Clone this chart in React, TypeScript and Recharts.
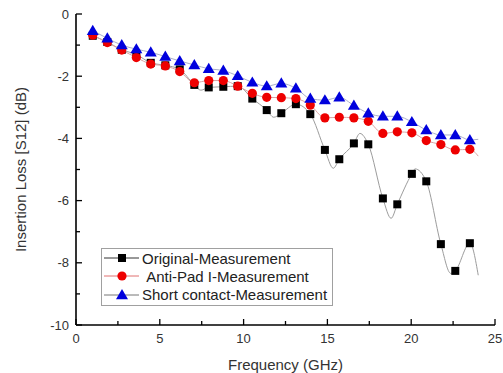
import { ComposedChart, Line, XAxis, YAxis, Label } from "recharts";

// frequency of each measured point (GHz)
const freq = [
  1.0, 1.87, 2.73, 3.6, 4.46, 5.33, 6.19, 7.06, 7.92, 8.79, 9.65, 10.52, 11.38, 12.25,
  13.12, 13.98, 14.85, 15.71, 16.58, 17.44, 18.31, 19.17, 20.04, 20.9, 21.77, 22.63, 23.5,
];

const original = [
  -0.7, -0.9, -1.15, -1.3, -1.57, -1.65, -1.78, -2.28, -2.36, -2.34, -2.32, -2.72, -3.09, -3.19,
  -2.9, -3.22, -4.37, -4.67, -4.16, -4.19, -5.93, -6.12, -5.14, -5.38, -7.4, -8.26, -7.37,
];
const antiPad = [
  -0.68, -0.92, -1.16, -1.4, -1.61, -1.67, -1.85, -2.21, -2.14, -2.14, -2.32, -2.55, -2.68, -2.69,
  -2.72, -2.93, -3.34, -3.32, -3.34, -3.45, -3.84, -3.79, -3.82, -4.07, -4.2, -4.37, -4.35,
];
const shortContact = [
  -0.54, -0.78, -1.0, -1.13, -1.23, -1.37, -1.51, -1.64, -1.76, -1.82, -1.99, -2.2, -2.32, -2.23,
  -2.39, -2.72, -2.77, -2.68, -2.94, -3.19, -3.29, -3.29, -3.47, -3.73, -3.89, -3.89, -4.05,
];

// extra points of the thin measured curves (between / after the markers)
const originalCurveExtra: [number, number][] = [
  [7.45, -2.45], [11.8, -3.32], [15.35, -4.96], [16.94, -3.84], [18.8, -6.57],
  [20.23, -4.98], [22.36, -8.34], [24.0, -8.4],
];
const antiPadCurveExtra: [number, number][] = [[24.0, -4.57]];
const shortCurveExtra: [number, number][] = [[24.0, -4.03]];

const xTicks = [0, 2.5, 5, 7.5, 10, 12.5, 15, 17.5, 20, 22.5, 25];
const yTicks = [-10, -9, -8, -7, -6, -5, -4, -3, -2, -1, 0];

const FONT = "Arial, 'Liberation Sans', sans-serif";

const marks = (vals: number[]) => freq.map((f, i) => ({ f, v: vals[i] }));
const curve = (vals: number[], extra: [number, number][]) =>
  [...marks(vals), ...extra.map(([f, v]) => ({ f, v }))].sort((a, b) => a.f - b.f);

function XTick({ x, y, payload }: any) {
  const major = payload.value % 5 === 0;
  return (
    <g>
      <line x1={x} x2={x} y1={y} y2={y - (major ? 6 : 4)} stroke="#000" strokeWidth={1.3} />
      {major && (
        <text x={x} y={y + 18} textAnchor="middle" fontSize={13} fontFamily={FONT} fill="#333">
          {payload.value}
        </text>
      )}
    </g>
  );
}

function YTick({ x, y, payload }: any) {
  const major = payload.value % 2 === 0;
  return (
    <g>
      <line x1={x} x2={x + (major ? 6 : 4)} y1={y} y2={y} stroke="#000" strokeWidth={1.3} />
      {major && (
        <text x={x - 7} y={y + 4.5} textAnchor="end" fontSize={13} fontFamily={FONT} fill="#333">
          {payload.value}
        </text>
      )}
    </g>
  );
}

const Square = ({ cx, cy, fill }: any) =>
  cx == null ? null : <rect x={cx - 4} y={cy - 4} width={8} height={8} fill={fill} />;
const Circle = ({ cx, cy, fill }: any) =>
  cx == null ? null : <circle cx={cx} cy={cy} r={4.6} fill={fill} />;
const Triangle = ({ cx, cy, fill }: any) =>
  cx == null ? null : (
    <polygon points={`${cx},${cy - 6} ${cx + 6},${cy + 4.2} ${cx - 6},${cy + 4.2}`} fill={fill} />
  );

const series = [
  { name: "Original-Measurement", vals: original, extra: originalCurveExtra, color: "#000", curve: "#9c9c9c", legendLine: "#333", Dot: Square },
  { name: "\u00a0Anti-Pad I-Measurement", vals: antiPad, extra: antiPadCurveExtra, color: "#ee0000", curve: "#d9a3a3", legendLine: "#e07070", Dot: Circle },
  { name: "Short contact-Measurement", vals: shortContact, extra: shortCurveExtra, color: "#0000dd", curve: "#a9aecb", legendLine: "#777", Dot: Triangle },
];

function LegendBox() {
  return (
    <div
      style={{
        position: "absolute",
        left: 101,
        top: 248,
        width: 230,
        border: "1px solid #a0a0a0",
        background: "#fff",
        fontFamily: FONT,
        fontSize: 15,
        color: "#222",
        padding: "0 0 1px 0",
      }}
    >
      {series.map((s) => (
        <div key={s.name} style={{ display: "flex", alignItems: "center", height: 18.3, whiteSpace: "pre" }}>
          <svg width={40} height={12} style={{ flex: "none" }}>
            <line x1={2} x2={37} y1={6} y2={6} stroke={s.legendLine} strokeWidth={1} />
            <s.Dot cx={20} cy={6} fill={s.color} />
          </svg>
          <span>{s.name}</span>
        </div>
      ))}
    </div>
  );
}

// the chart spans the whole window (body margin removed) so the "25" label has room
export default function App() {
  return (
    <div style={{ position: "relative", width: 503, height: 373 }}>
      <style>{"html,body{margin:0;overflow:hidden} .recharts-surface{overflow:visible !important}"}</style>
      <ComposedChart width={503} height={373} margin={{ top: 14, right: 8, bottom: 3, left: 8 }}>
        <XAxis
          type="number"
          dataKey="f"
          domain={[0, 25]}
          ticks={xTicks}
          interval={0}
          height={45}
          tickSize={0}
          tickMargin={0}
          tickLine={false}
          axisLine={{ stroke: "#000", strokeWidth: 1.6 }}
          tick={<XTick />}
          allowDuplicatedCategory={false}
        >
          <Label value="Frequency (GHz)" position="insideBottom" offset={0} fontSize={15} fontFamily={FONT} fill="#333" />
        </XAxis>
        <XAxis xAxisId="top" type="number" orientation="top" domain={[0, 25]} height={0} tick={false} tickLine={false} axisLine={{ stroke: "#000", strokeWidth: 1.6 }} />
        <YAxis
          type="number"
          domain={[-10, 0]}
          ticks={yTicks}
          interval={0}
          width={68}
          tickSize={0}
          tickMargin={0}
          tickLine={false}
          axisLine={{ stroke: "#000", strokeWidth: 1.6 }}
          tick={<YTick />}
        >
          <Label
            content={({ viewBox }: any) => {
              const cy = viewBox.y + viewBox.height / 2;
              return (
                <text x={26} y={cy} transform={`rotate(-90 26 ${cy})`} textAnchor="middle" fontSize={15} fontFamily={FONT} fill="#333">
                  Insertion Loss [S12] (dB)
                </text>
              );
            }}
          />
        </YAxis>
        <YAxis yAxisId="right" orientation="right" domain={[-10, 0]} width={0} tick={false} tickLine={false} axisLine={{ stroke: "#000", strokeWidth: 1.6 }} />

        {series.map((s) => (
          <Line
            key={s.name + "-curve"}
            data={curve(s.vals, s.extra)}
            dataKey="v"
            type="monotone"
            stroke={s.curve}
            strokeWidth={1}
            dot={false}
            activeDot={false}
            isAnimationActive={false}
          />
        ))}
        {series.map((s) => (
          <Line
            key={s.name + "-marks"}
            data={marks(s.vals)}
            dataKey="v"
            stroke="none"
            dot={(p: any) => <s.Dot key={p.index} cx={p.cx} cy={p.cy} fill={s.color} />}
            activeDot={false}
            isAnimationActive={false}
          />
        ))}
      </ComposedChart>
      <LegendBox />
    </div>
  );
}
